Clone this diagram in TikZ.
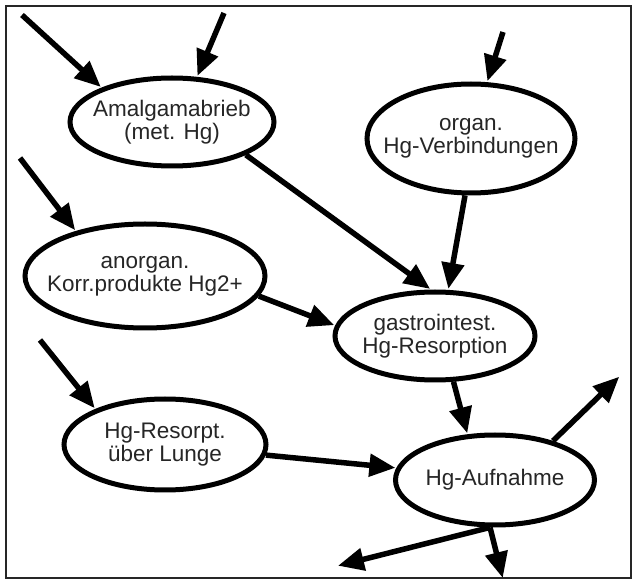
\documentclass[tikz,border=0pt]{standalone}
\usepackage{fontspec}
\setmainfont{Liberation Sans}
\usetikzlibrary{shapes.geometric,arrows.meta}
\begin{document}
\begin{tikzpicture}[x=1pt,y=-1pt,
  oval/.style={ellipse, draw=black, line width=5pt, inner sep=0pt, fill=white},
  txt/.style={align=center, font=\fontsize{22.5}{23}\selectfont, text=black!85},
  arr/.style={line width=5.5pt, -{Triangle[length=26pt,width=22pt]}, shorten >=1pt},
  frame/.style={draw=black!85, line width=2.5pt, inner sep=0pt},
]
\useasboundingbox (0,0) rectangle (633,580);
\node[frame, minimum width=625pt, minimum height=572pt] (box) at (318.5,292) {};

\node[oval, minimum width=204pt, minimum height=88pt,
  label={[txt]center:Amalgamabrieb\\(met. Hg)}] (amal) at (172,122) {};
\node[oval, minimum width=208pt, minimum height=109pt,
  label={[txt]center:organ.\\Hg-Verbindungen}] (organ) at (471,138.5) {};
\node[oval, minimum width=240pt, minimum height=104pt,
  label={[txt]center:anorgan.\\Korr.produkte Hg2+}] (anorg) at (145,276) {};
\node[oval, minimum width=200pt, minimum height=88pt,
  label={[txt]center:gastrointest.\\Hg-Resorption}] (gastro) at (435,336) {};
\node[oval, minimum width=202pt, minimum height=91pt,
  label={[txt]center:Hg-Resorpt.\\über Lunge}] (lunge) at (165,444.5) {};
\node[oval, minimum width=199pt, minimum height=90pt,
  label={[txt]center:Hg-Aufnahme}] (aufn) at (495,480) {};

\coordinate (inA1) at (22,15);
\coordinate (inA2) at (224,13);
\coordinate (inO) at (503,32);
\coordinate (inK) at (20,158);
\coordinate (inL) at (40,340);
\coordinate (outR) at (620,376);
\coordinate (outBL) at (337,566);
\coordinate (outB) at (503,579);

\draw[arr] (inA1) -- (amal.154);
\draw[arr] (inA2) -- (amal.61);
\draw[arr] (inO) -- (organ.74);
\draw[arr] (inK) -- (anorg.147);
\draw[arr] (inL) -- (lunge.153);
\draw[arr] (amal.-24) -- (gastro.95);
\draw[arr] (organ.264) -- (gastro.74);
\draw[arr] (anorg.-10) -- (gastro.174);
\draw[arr] (lunge.-6) -- (aufn.173);
\draw[arr] (gastro.-68) -- (aufn.121);
\draw[arr] (aufn.34) -- (outR);
\draw[arr] (aufn.-96) -- (outBL);
\draw[arr] (aufn.-96) -- (outB);
\end{tikzpicture}
\end{document}
